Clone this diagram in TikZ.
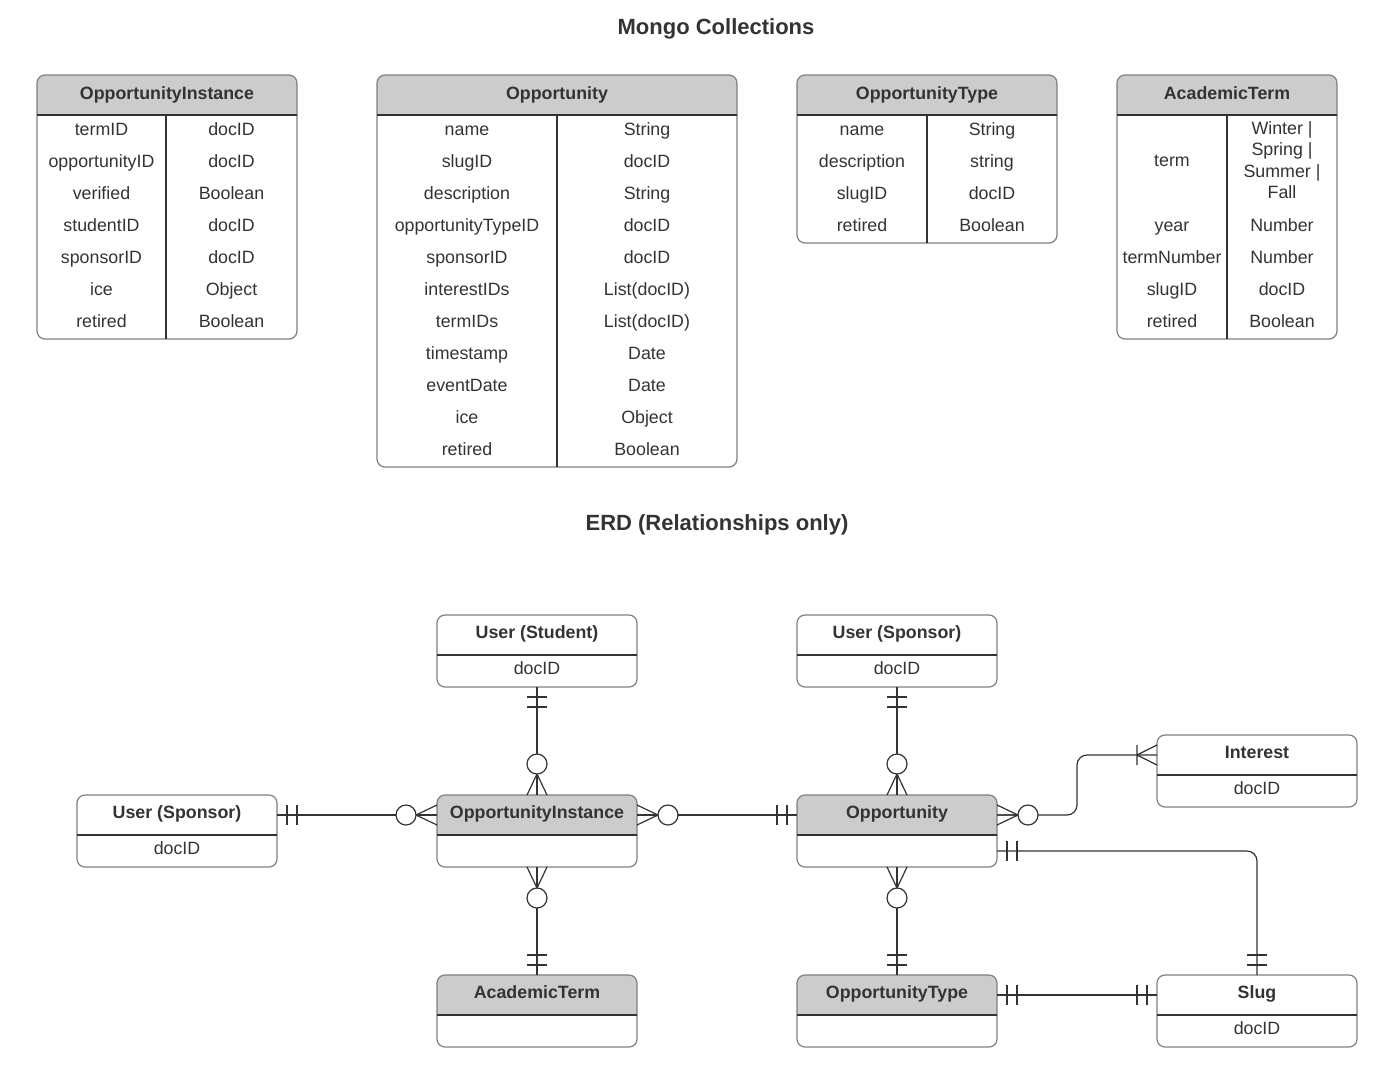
\documentclass[tikz,border=0pt]{standalone}
\usepackage{fontspec}
\setmainfont{Liberation Sans}
\definecolor{txt}{HTML}{333333}
\definecolor{hdr}{HTML}{CCCCCC}
\definecolor{bord}{HTML}{7F7F7F}
\definecolor{ln}{HTML}{333333}
\tikzset{
 outerb/.style={draw=bord, line width=1.2pt, rounded corners=8pt, inner sep=0pt, outer sep=0pt},
 innerl/.style={draw=ln, line width=1.2pt},
 conn/.style={draw=ln, line width=1.2pt},
 ttl/.style={font=\fontsize{17.8}{21.4}\selectfont\bfseries, text=txt, anchor=base, inner sep=0pt},
 txtn/.style={font=\fontsize{17.8}{21.4}\selectfont, text=txt, anchor=base, inner sep=0pt},
 bigttl/.style={font=\fontsize{22}{26}\selectfont\bfseries, text=txt, anchor=base, inner sep=0pt},
}
% ERD entity: name, left x, top y, title, header fill
\newcommand\erent[5]{%
 \begin{scope}\clip (#2,#3) rectangle (#2+200,#3+40);
 \fill[#5, rounded corners=8pt] (#2,#3) rectangle (#2+200,#3+72);\end{scope}
 \node[outerb, minimum width=200pt, minimum height=72pt, anchor=north west] (#1) at (#2,#3) {};
 \draw[innerl] (#2,#3+40) -- (#2+200,#3+40);
 \node[ttl] (#1-t) at (#2+100,#3+23.5) {#4};}
% markers
\newcommand\mone[2]{\begin{scope}[shift={(#1)},rotate=#2]
 \draw[conn] (10,-10) -- (10,10) (20,-10) -- (20,10);\end{scope}}
\newcommand\mzmany[2]{\begin{scope}[shift={(#1)},rotate=#2]
 \draw[conn] (21,0) -- (0,-10) (21,0) -- (0,10) (21,0) -- (0,0);
 \draw[conn,fill=white] (31,0) circle (10);\end{scope}}
\newcommand\monemany[2]{\begin{scope}[shift={(#1)},rotate=#2]
 \draw[conn] (20,-10) -- (20,10) (20,0) -- (0,-10) (20,0) -- (0,10);\end{scope}}
% mongo table: name, x0, xmid, x1, nrows, title, rows
\newcommand\mtable[7]{%
 \pgfmathsetmacro\tbot{115+32*#5}%
 \pgfmathsetmacro\tw{#4-#2}%
 \begin{scope}\clip (#2,75) rectangle (#4,115);
 \fill[hdr, rounded corners=8pt] (#2,75) rectangle (#4,\tbot);\end{scope}
 \node[outerb, minimum width=\tw pt, minimum height={(\tbot-75)*1pt}, anchor=north west] (#1) at (#2,75) {};
 \draw[innerl] (#2,115) -- (#4,115) (#3,115) -- (#3,\tbot);
 \node[ttl] (#1-t) at ({(#2+#4)/2},99) {#6};
 \foreach \a/\b [count=\i from 0] in {#7} {
  \node[txtn] (#1-l\i) at ({(#2+#3)/2},135+32*\i) {\a};
  \node[txtn] (#1-r\i) at ({(#3+#4)/2},135+32*\i) {\b};
 }}
\begin{document}
\begin{tikzpicture}[x=1pt,y=-1pt]
\useasboundingbox (0,0) rectangle (1397,1072);
\node[bigttl] (title1) at (716,34.5) {Mongo Collections};
\node[bigttl] (title2) at (717,530.5) {ERD (Relationships only)};

\mtable{t1}{37}{166}{297}{7}{OpportunityInstance}{termID/docID, opportunityID/docID, verified/Boolean, studentID/docID, sponsorID/docID, ice/Object, retired/Boolean}
\mtable{t2}{377}{557}{737}{11}{Opportunity}{name/String, slugID/docID, description/String, opportunityTypeID/docID, sponsorID/docID, interestIDs/List(docID), termIDs/List(docID), timestamp/Date, eventDate/Date, ice/Object, retired/Boolean}
\mtable{t3}{797}{927}{1057}{4}{OpportunityType}{name/String, description/string, slugID/docID, retired/Boolean}

% AcademicTerm table
\begin{scope}\clip (1117,75) rectangle (1337,115);
\fill[hdr, rounded corners=8pt] (1117,75) rectangle (1337,339);\end{scope}
\node[outerb, minimum width=220pt, minimum height=264pt, anchor=north west] (t4) at (1117,75) {};
\draw[innerl] (1117,115) -- (1337,115) (1227,115) -- (1227,339);
\node[ttl] (t4-t) at (1227,99) {AcademicTerm};
\node[txtn] (t4-l0) at (1172,166.5) {term};
\node[txtn, anchor=center, align=center] (t4-r0) at (1282,160) {Winter |\\Spring |\\Summer |\\Fall};
\foreach \a/\b [count=\i from 0] in {year/Number, termNumber/Number, slugID/docID, retired/Boolean} {
 \node[txtn] (t4-l\i x) at (1172,231+32*\i) {\a};
 \node[txtn] (t4-r\i x) at (1282,231+32*\i) {\b};
}

% ERD entities
\erent{stu}{437}{615}{User (Student)}{white}
\node[txtn] (stu-b) at (537,674) {docID};
\erent{spt}{797}{615}{User (Sponsor)}{white}
\node[txtn] (spt-b) at (897,674) {docID};
\erent{int}{1157}{735}{Interest}{white}
\node[txtn] (int-b) at (1257,794) {docID};
\erent{spl}{77}{795}{User (Sponsor)}{white}
\node[txtn] (spl-b) at (177,854) {docID};
\erent{oi}{437}{795}{OpportunityInstance}{hdr}
\erent{opp}{797}{795}{Opportunity}{hdr}
\erent{at}{437}{975}{AcademicTerm}{hdr}
\erent{ot}{797}{975}{OpportunityType}{hdr}
\erent{slug}{1157}{975}{Slug}{white}
\node[txtn] (slug-b) at (1257,1034) {docID};

% connection points
\coordinate (splR) at ([yshift=-20pt]spl.north east);
\coordinate (oiL) at ([yshift=-20pt]oi.north west);
\coordinate (oiR) at ([yshift=-20pt]oi.north east);
\coordinate (oppL) at ([yshift=-20pt]opp.north west);
\coordinate (oppR) at ([yshift=-20pt]opp.north east);
\coordinate (oppR2) at ([yshift=-56pt]opp.north east);
\coordinate (intL) at ([yshift=-20pt]int.north west);
\coordinate (otR) at ([yshift=-20pt]ot.north east);
\coordinate (slugL) at ([yshift=-20pt]slug.north west);

% connectors
\draw[conn] (stu.south) -- (oi.north);
\mone{stu.south}{-90}\mzmany{oi.north}{90}
\draw[conn] (splR) -- (oiL);
\mone{splR}{0}\mzmany{oiL}{180}
\draw[conn] (oiR) -- (oppL);
\mzmany{oiR}{0}\mone{oppL}{180}
\draw[conn] (oi.south) -- (at.north);
\mzmany{oi.south}{-90}\mone{at.north}{90}
\draw[conn] (spt.south) -- (opp.north);
\mone{spt.south}{-90}\mzmany{opp.north}{90}
\draw[conn] (opp.south) -- (ot.north);
\mzmany{opp.south}{-90}\mone{ot.north}{90}
\draw[conn, rounded corners=10pt] (oppR) -- ++(80,0) |- (intL);
\mzmany{oppR}{0}\monemany{intL}{180}
\draw[conn, rounded corners=10pt] (oppR2) -| (slug.north);
\mone{oppR2}{0}\mone{slug.north}{90}
\draw[conn] (otR) -- (slugL);
\mone{otR}{0}\mone{slugL}{180}
\end{tikzpicture}
\end{document}
